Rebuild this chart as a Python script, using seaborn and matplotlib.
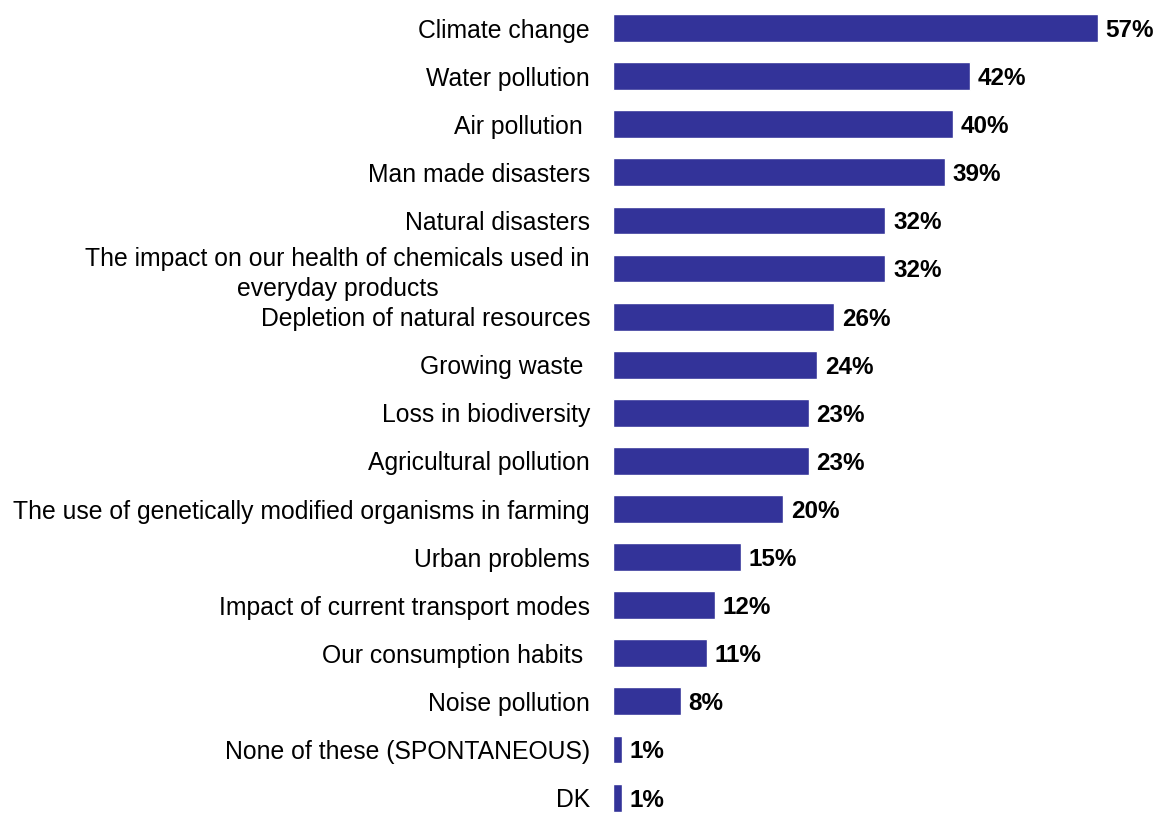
import matplotlib
matplotlib.use("Agg")
import matplotlib.pyplot as plt
import seaborn as sns
import pandas as pd

categories = [
    "Climate change",
    "Water pollution",
    "Air pollution ",
    "Man made disasters",
    "Natural disasters",
    "The impact on our health of chemicals used in\neveryday products",
    "Depletion of natural resources",
    "Growing waste ",
    "Loss in biodiversity",
    "Agricultural pollution",
    "The use of genetically modified organisms in farming",
    "Urban problems",
    "Impact of current transport modes",
    "Our consumption habits ",
    "Noise pollution",
    "None of these (SPONTANEOUS)",
    "DK",
]
values = [57, 42, 40, 39, 32, 32, 26, 24, 23, 23, 20, 15, 12, 11, 8, 1, 1]

BAR_COLOR = "#333399"

sns.set_style("white")
plt.rcParams["font.family"] = ["Liberation Sans", "DejaVu Sans"]
plt.rcParams["text.color"] = "black"
plt.rcParams["ytick.color"] = "black"

df = pd.DataFrame({"item": categories, "pct": values})

W, H = 1157, 814
fig = plt.figure(figsize=(W / 100, H / 100), dpi=100)
# row pitch ~48.1 px, first bar centre at y=28
ax = fig.add_axes([613 / W, 0, (W - 613) / W, 810 / H])

sns.barplot(data=df, x="pct", y="item", color=BAR_COLOR, saturation=1,
            width=0.58, orient="h", ax=ax)

ax.set_xlim(0, (W - 613) / 8.51)
ax.set_ylim(16.34, -0.5)
ax.set_xlabel("")
ax.set_ylabel("")
ax.set_xticks([])
sns.despine(ax=ax, left=True, bottom=True)
ax.tick_params(axis="y", length=0, pad=16.5, labelsize=17.8, labelcolor="black")

for lab in ax.get_yticklabels():
    lab.set_multialignment("center")
    lab.set_linespacing(1.3)

for i, v in enumerate(values):
    ax.text(v + 0.9, i + 0.05, f"{v}%", va="center", ha="left",
            fontsize=17.5, fontweight="bold", color="black", clip_on=False)

fig.savefig("out.png", dpi=100)
